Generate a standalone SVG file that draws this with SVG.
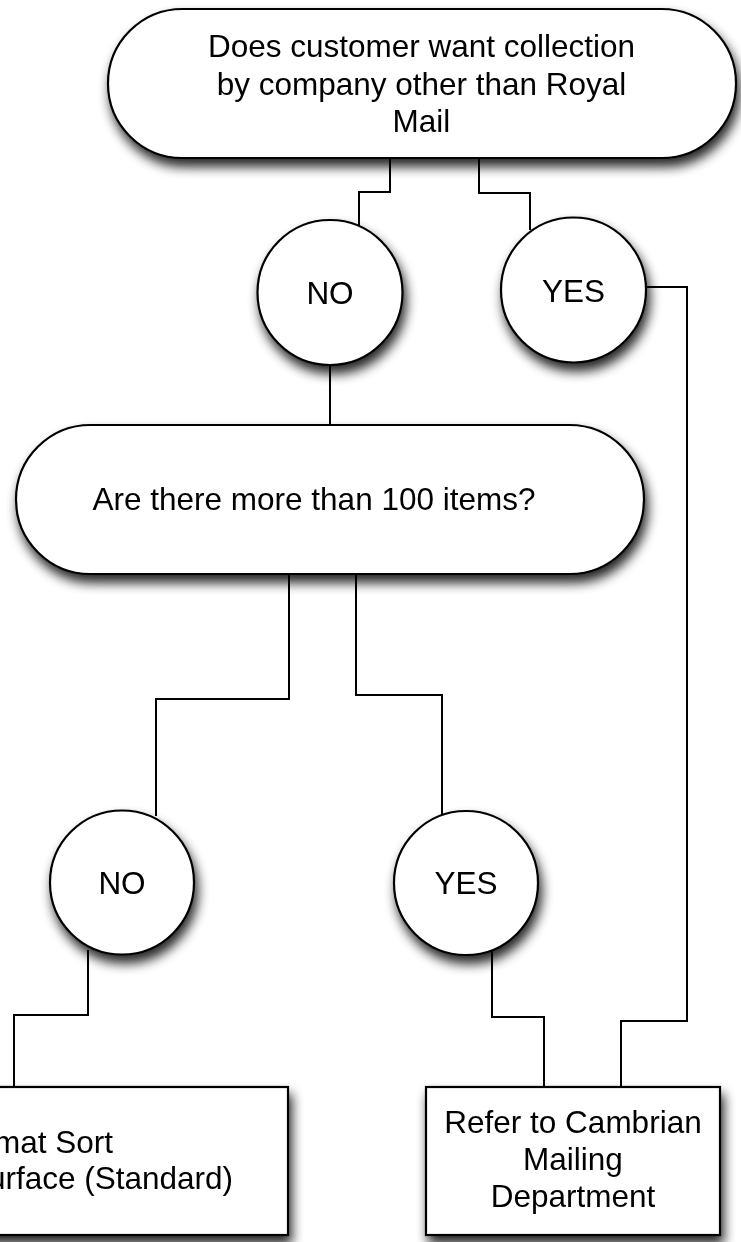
<svg xmlns="http://www.w3.org/2000/svg" width="741" height="1242" viewBox="0 0 741 1242">
<defs>
<filter id="sh" x="-20%" y="-20%" width="140%" height="150%">
<feGaussianBlur in="SourceAlpha" stdDeviation="6"/>
<feOffset dx="3" dy="8" result="b"/>
<feComponentTransfer><feFuncA type="linear" slope="0.85"/></feComponentTransfer>
<feMerge><feMergeNode/><feMergeNode in="SourceGraphic"/></feMerge>
</filter>
</defs>
<style>
.shape{fill:#fff;stroke:#000;stroke-width:2.2}
.conn{fill:none;stroke:#000;stroke-width:2}
text{font-family:"Liberation Sans",Arial,Helvetica,sans-serif;font-size:31.5px;fill:#000}
.c{text-anchor:middle}
</style>
<rect width="741" height="1242" fill="#fff"/>
<g id="connectors">
<polyline class="conn" points="390,158 390,192 359,192 359,226"/>
<polyline class="conn" points="479,158 479,193 530,193 530,230"/>
<polyline class="conn" points="646,287 687,287 687,1021 621,1021 621,1087"/>
<line class="conn" x1="330" y1="365" x2="330" y2="425"/>
<polyline class="conn" points="289,574 289,699 156,699 156,816"/>
<polyline class="conn" points="356,574 356,695 442,695 442,816"/>
<polyline class="conn" points="88,950 88,1015 14,1015 14,1087"/>
<polyline class="conn" points="492,950 492,1017 544,1017 544,1087"/>
</g>
<g id="q1" filter="url(#sh)">
<rect class="shape" x="108" y="9" width="628" height="149" rx="74.5" ry="74.5"/>
<text class="c" x="421.5" y="57">Does customer want collection</text>
<text class="c" x="421.5" y="95">by company other than Royal</text>
<text class="c" x="421.5" y="132">Mail</text>
</g>
<g id="no1" filter="url(#sh)">
<circle class="shape" cx="330" cy="292.5" r="72.5"/>
<text class="c" x="330" y="304">NO</text>
</g>
<g id="yes1" filter="url(#sh)">
<circle class="shape" cx="573.5" cy="290" r="72.5"/>
<text class="c" x="573.5" y="302">YES</text>
</g>
<g id="q2" filter="url(#sh)">
<rect class="shape" x="16" y="425" width="628" height="149" rx="74.5" ry="74.5"/>
<text class="c" x="314" y="510">Are there more than 100 items?</text>
</g>
<g id="no2" filter="url(#sh)">
<circle class="shape" cx="122" cy="882.5" r="72"/>
<text class="c" x="122" y="894">NO</text>
</g>
<g id="yes2" filter="url(#sh)">
<circle class="shape" cx="466" cy="883" r="72"/>
<text class="c" x="466" y="894">YES</text>
</g>
<g id="box1" filter="url(#sh)">
<rect class="shape" x="-20" y="1087" width="308" height="148"/>
<text x="113" y="1153" text-anchor="end">mat Sort</text>
<text x="233" y="1189" text-anchor="end">urface (Standard)</text>
</g>
<g id="box2" filter="url(#sh)">
<rect class="shape" x="426" y="1087" width="294" height="148"/>
<text class="c" x="573" y="1133">Refer to Cambrian</text>
<text class="c" x="573" y="1170">Mailing</text>
<text class="c" x="573" y="1207">Department</text>
</g>
</svg>
